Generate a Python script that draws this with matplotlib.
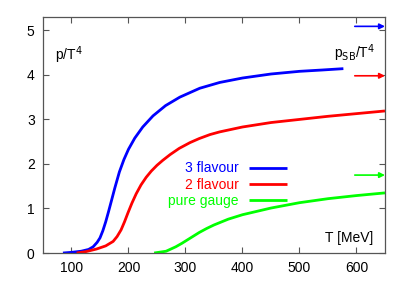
import numpy as np
import matplotlib
matplotlib.use("Agg")
import matplotlib.pyplot as plt

plt.rcParams['font.family'] = ['Liberation Sans', 'DejaVu Sans']

# --- data ---
T_3f = [85, 100, 117, 130, 138, 145, 150, 155, 160, 165, 170, 176, 184, 192, 200, 211,
        225, 243, 265, 290, 325, 360, 400, 450, 500, 540, 577]
p_3f = [0.0, 0.015, 0.04, 0.08, 0.14, 0.24, 0.34, 0.5, 0.7, 0.93, 1.17, 1.46, 1.82, 2.10,
        2.33, 2.58, 2.83, 3.08, 3.31, 3.50, 3.70, 3.83, 3.93, 4.02, 4.08, 4.11, 4.14]

T_2f = [109, 125, 144, 160, 173, 180, 187, 193, 199, 206, 213.5, 222, 231, 240, 250, 260,
        273, 289, 308, 324, 343, 360, 400, 450, 500, 550, 600, 650]
p_2f = [0.0, 0.03, 0.09, 0.16, 0.26, 0.37, 0.52, 0.7, 0.9, 1.12, 1.33, 1.53, 1.70, 1.84,
        1.97, 2.08, 2.21, 2.35, 2.48, 2.57, 2.66, 2.72, 2.83, 2.93, 3.0, 3.07, 3.13, 3.19]

T_pg = [245, 266, 283, 294, 304, 314, 324, 337, 350, 375, 400, 450, 500, 550, 600, 650]
p_pg = [0.0, 0.04, 0.14, 0.22, 0.30, 0.38, 0.46, 0.55, 0.63, 0.76, 0.86, 1.01, 1.13, 1.22,
        1.29, 1.35]

sb_limits = [5.09, 3.98, 1.75]
labels = ['3 flavour', '2 flavour', 'pure gauge']
colors = ['#0000ff', '#ff0000', '#00ff00']

xticks = [100, 200, 300, 400, 500, 600]
yticks = [0, 1, 2, 3, 4, 5]

fig = plt.figure(figsize=(4.03, 2.82), dpi=100)
ax = fig.add_axes([0.1067, 0.1028, 0.8486, 0.8369])

for T, p, c, lab in zip([T_3f, T_2f, T_pg], [p_3f, p_2f, p_pg], colors, labels):
    ax.plot(T, p, color=c, lw=2.0, label=lab, solid_capstyle='butt', solid_joinstyle='round')

# Stefan-Boltzmann arrows
for v, c in zip(sb_limits, colors):
    ax.annotate('', xy=(650, v), xytext=(597, v),
                arrowprops=dict(arrowstyle='-|>', color=c, lw=1.2,
                                mutation_scale=8, shrinkA=0, shrinkB=0))

ax.set_xlim(50, 650)
ax.set_ylim(0, 5.3)
ax.set_xticks(xticks)
ax.set_yticks(yticks)
ax.tick_params(direction='in', length=4, width=0.8, color='#555555',
               top=True, right=True, labelsize=10, pad=6)
for s in ax.spines.values():
    s.set_color('#555555')
    s.set_linewidth(0.9)

ax.text(0.035, 0.84, r'p/T$^4$', transform=ax.transAxes, fontsize=10,
        ha='left', va='center')
ax.text(0.852, 0.847, r'p$_{\mathrm{SB}}$/T$^4$', transform=ax.transAxes, fontsize=10,
        ha='left', va='center')
ax.text(0.965, 0.064, 'T [MeV]', transform=ax.transAxes, fontsize=10,
        ha='right', va='center')

leg = ax.legend(loc='center right', bbox_to_anchor=(0.713, 0.29), frameon=False,
                markerfirst=False, fontsize=10, labelcolor='linecolor',
                handlelength=2.75, handletextpad=0.72, labelspacing=0.15,
                borderpad=0, borderaxespad=0)

fig.savefig('out.png', dpi=100)
